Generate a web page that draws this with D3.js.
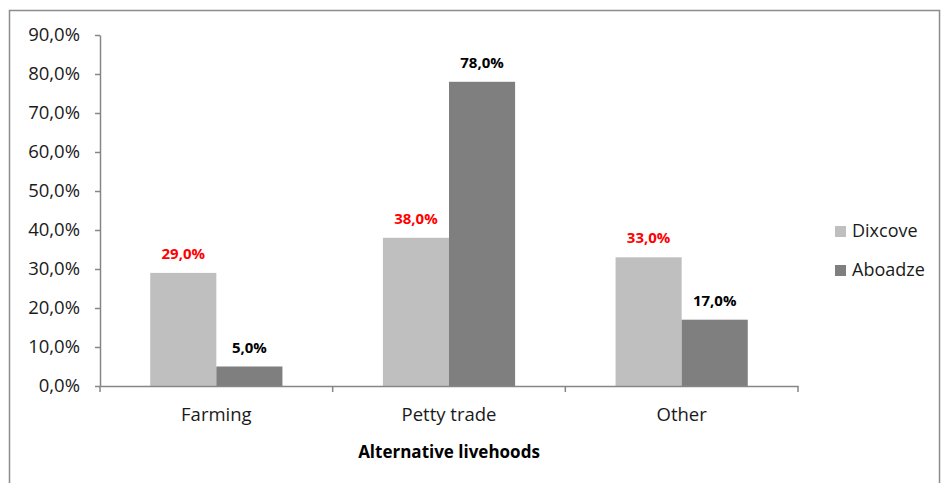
<!DOCTYPE html>
<html>
<head>
<meta charset="utf-8">
<script src="https://cdn.jsdelivr.net/npm/d3@7"></script>
<style>
  html, body { margin: 0; padding: 0; background: #fff; }
  svg { display: block; font-family: "Open Sans", "DejaVu Sans", sans-serif; }
</style>
</head>
<body>
<svg id="chart" width="942" height="483"></svg>
<script>
const categories = ["Farming", "Petty trade", "Other"];
const seriesNames = ["Dixcove", "Aboadze"];
const dixcove = [29.0, 38.0, 33.0];
const aboadze = [5.0, 78.0, 17.0];
const yTicks = [0, 10, 20, 30, 40, 50, 60, 70, 80, 90];
const xTitle = "Alternative livehoods";

const colors = { Dixcove: "#bfbfbf", Aboadze: "#7f7f7f" };
const labelColors = { Dixcove: "#ff0000", Aboadze: "#000000" };
const fmt = v => v.toFixed(1).replace(".", ",") + "%";

const svg = d3.select("#chart");

// outer frame
svg.append("rect")
  .attr("x", 9.5).attr("y", 10.5)
  .attr("width", 930).attr("height", 480)
  .attr("fill", "#fff").attr("stroke", "#8c8c8c").attr("stroke-width", 1.5);

const plot = { left: 100, right: 798, top: 35, bottom: 386 };

const x0 = d3.scaleBand().domain(categories)
  .range([plot.left, plot.right]).paddingInner(0).paddingOuter(0);
const x1 = d3.scaleBand().domain(seriesNames)
  .range([0, x0.bandwidth()]).paddingInner(0).paddingOuter(0.76);
const y = d3.scaleLinear().domain([0, 90]).range([plot.bottom, plot.top]);

const axisColor = "#868686";
const textColor = "#1a1a1a";

// y axis
const yAxis = svg.append("g")
  .attr("transform", `translate(${plot.left},0)`)
  .call(d3.axisLeft(y).tickValues(yTicks).tickSize(5).tickSizeOuter(0).tickPadding(15).tickFormat(fmt))
  .attr("font-family", null).attr("font-size", null);
yAxis.select(".domain").attr("stroke", axisColor).attr("stroke-width", 1.5);
yAxis.selectAll(".tick line").attr("stroke", axisColor).attr("stroke-width", 1.5);
yAxis.selectAll(".tick text")
  .attr("fill", textColor).style("font-size", "18.5px");

// bars
const rows = categories.map((c, i) => ({ cat: c, values: [
  { key: "Dixcove", value: dixcove[i] },
  { key: "Aboadze", value: aboadze[i] }
]}));

const groups = svg.append("g").selectAll("g").data(rows).join("g")
  .attr("transform", d => `translate(${x0(d.cat)},0)`);

groups.selectAll("rect").data(d => d.values).join("rect")
  .attr("x", d => x1(d.key))
  .attr("y", d => y(d.value))
  .attr("width", x1.bandwidth())
  .attr("height", d => y(0) - y(d.value))
  .attr("fill", d => colors[d.key]);

groups.selectAll("text.val").data(d => d.values).join("text")
  .attr("class", "val")
  .attr("x", d => x1(d.key) + x1.bandwidth() / 2)
  .attr("y", d => y(d.value) - 14)
  .attr("text-anchor", "middle")
  .attr("fill", d => labelColors[d.key])
  .style("font-size", "15px").style("font-weight", "bold")
  .text(d => fmt(d.value));

// x axis
const xAxis = svg.append("g")
  .attr("transform", `translate(0,${plot.bottom})`)
  .call(d3.axisBottom(x0).tickSize(0).tickPadding(22))
  .attr("font-family", null).attr("font-size", null);
xAxis.select(".domain").attr("stroke", axisColor).attr("stroke-width", 1.5);
xAxis.selectAll(".tick text")
  .attr("fill", textColor).style("font-size", "18.5px");

// category separators
const edges = categories.map(c => x0(c)).concat([plot.right]);
svg.append("g").selectAll("line").data(edges).join("line")
  .attr("x1", d => d).attr("x2", d => d)
  .attr("y1", plot.bottom).attr("y2", plot.bottom + 6)
  .attr("stroke", axisColor).attr("stroke-width", 1.5);

// axis title
svg.append("text")
  .attr("x", (plot.left + plot.right) / 2).attr("y", 458)
  .attr("text-anchor", "middle").attr("fill", "#000")
  .style("font-size", "17px").style("font-weight", "bold")
  .text(xTitle);

// legend
const legend = svg.append("g").selectAll("g").data(seriesNames).join("g")
  .attr("transform", (d, i) => `translate(835,${231 + i * 39})`);
legend.append("rect")
  .attr("x", 0).attr("y", -5).attr("width", 11).attr("height", 11)
  .attr("fill", d => colors[d]);
legend.append("text")
  .attr("x", 17).attr("y", 0).attr("dy", "0.35em")
  .attr("fill", textColor).style("font-size", "18px")
  .text(d => d);
</script>
</body>
</html>
